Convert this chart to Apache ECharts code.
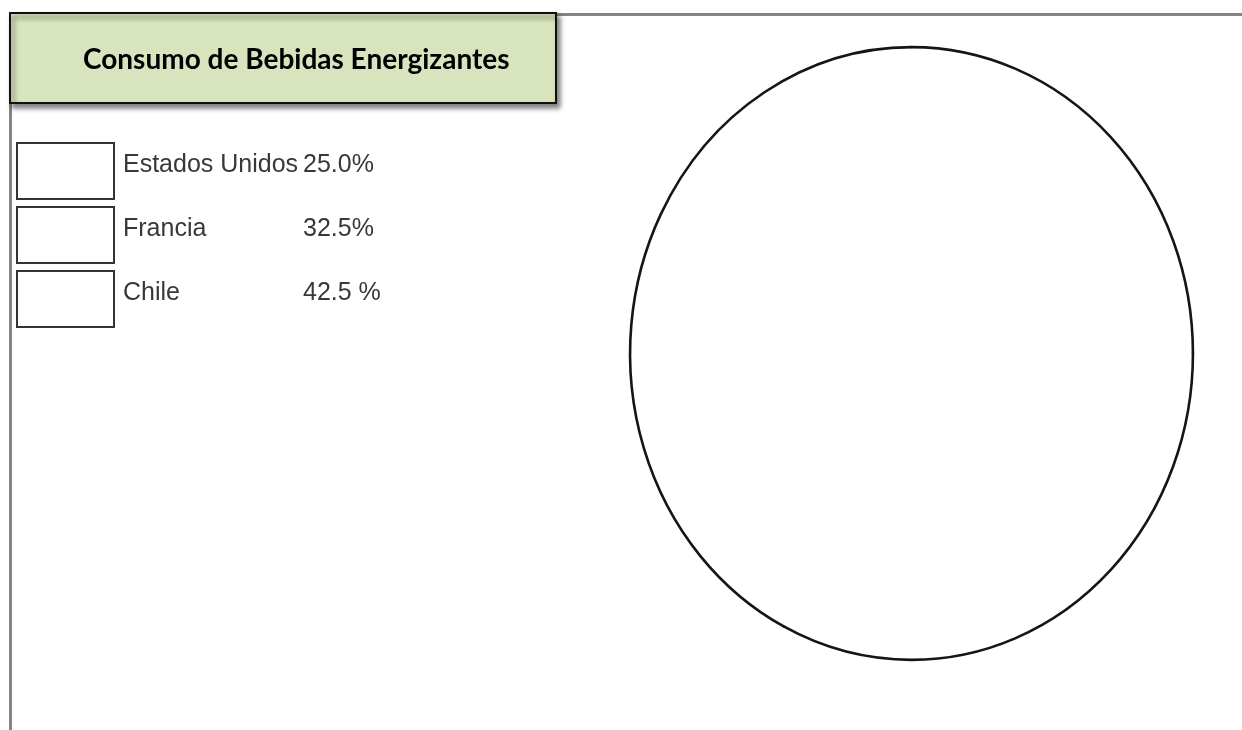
<!DOCTYPE html>
<html>
<head>
<meta charset="utf-8">
<script src="https://cdn.jsdelivr.net/npm/echarts@6/dist/echarts.min.js"></script>
<style>
html,body{margin:0;padding:0;background:#fff;}
#chart{width:1242px;height:730px;}
</style>
</head>
<body>
<div id="chart"></div>
<script>
const titleText = 'Consumo de Bebidas Energizantes';
const countries = ['Estados Unidos', 'Francia', 'Chile'];
const shares = [25.0, 32.5, 42.5];
const shareLabels = ['25.0%', '32.5%', '42.5 %'];

const chart = echarts.init(document.getElementById('chart'), null, {renderer: 'canvas'});

const total = shares.reduce((a, b) => a + b, 0);
function cumBefore(i) { let s = 0; for (let k = 0; k < i; k++) s += shares[k]; return s; }

function makeRender(idx) {
  return function (params, api) {
    const W = api.getWidth(), H = api.getHeight();
    const cx = W * 0.7339, cy = H * 0.4842;
    const rx = W * 0.2266, ry = H * 0.4197;
    const v = api.value(0);
    const a1 = cumBefore(idx) / total * Math.PI * 2;
    const a2 = a1 + v / total * Math.PI * 2;
    const x1 = cx + rx * Math.sin(a1), y1 = cy - ry * Math.cos(a1);
    const x2 = cx + rx * Math.sin(a2), y2 = cy - ry * Math.cos(a2);
    const large = (a2 - a1) > Math.PI ? 1 : 0;
    const arc = 'A ' + rx + ' ' + ry + ' 0 ' + large + ' 1 ' + x2 + ' ' + y2;
    return {
      type: 'group',
      children: [
        { type: 'path', z2: 1, shape: { pathData: 'M ' + cx + ' ' + cy + ' L ' + x1 + ' ' + y1 + ' ' + arc + ' Z' },
          style: { fill: '#ffffff', stroke: null } },
        { type: 'path', z2: 20, shape: { pathData: 'M ' + x1 + ' ' + y1 + ' ' + arc },
          style: { fill: null, stroke: '#151515', lineWidth: 2.6, lineCap: 'round' } }
      ]
    };
  };
}

const series = countries.map((name, i) => ({
  type: 'custom',
  name: name,
  coordinateSystem: 'none',
  renderItem: makeRender(i),
  data: [[shares[i]]],
  silent: true
}));

chart.setOption({
  animation: false,
  backgroundColor: '#ffffff',
  graphic: [
    { type: 'rect', z: 0, shape: { x: 10.5, y: 14.5, width: 1400, height: 900 },
      style: { fill: null, stroke: '#858585', lineWidth: 3 } },
    { type: 'rect', z: 1, shape: { x: 10, y: 13, width: 546, height: 90 },
      style: { fill: '#d7e4bd', stroke: '#111', lineWidth: 2,
               shadowBlur: 5, shadowOffsetX: 3, shadowOffsetY: 4, shadowColor: 'rgba(0,0,0,0.5)' } }
  ],
  title: {
    text: titleText,
    left: 83, top: 46,
    padding: 0,
    z: 10,
    textStyle: { fontFamily: 'Lato', fontWeight: 'bold', fontSize: 28, color: '#000' }
  },
  legend: {
    orient: 'vertical',
    left: 16, top: 142,
    padding: 0,
    itemWidth: 97, itemHeight: 56, itemGap: 6,
    icon: 'rect',
    selectedMode: false,
    data: countries,
    itemStyle: { color: '#ffffff', borderColor: '#333', borderWidth: 2 },
    formatter: function (name) {
      const i = countries.indexOf(name);
      return '{n|' + name + '}{v|' + shareLabels[i] + '}';
    },
    textStyle: {
      fontFamily: 'Liberation Sans', fontSize: 25, color: '#383838',
      rich: {
        n: { fontFamily: 'Liberation Sans', fontSize: 25, color: '#383838', width: 180, padding: [0, 0, 12, 4] },
        v: { fontFamily: 'Liberation Sans', fontSize: 25, color: '#383838', padding: [0, 0, 12, 0] }
      }
    }
  },
  series: series
});
</script>
</body>
</html>
